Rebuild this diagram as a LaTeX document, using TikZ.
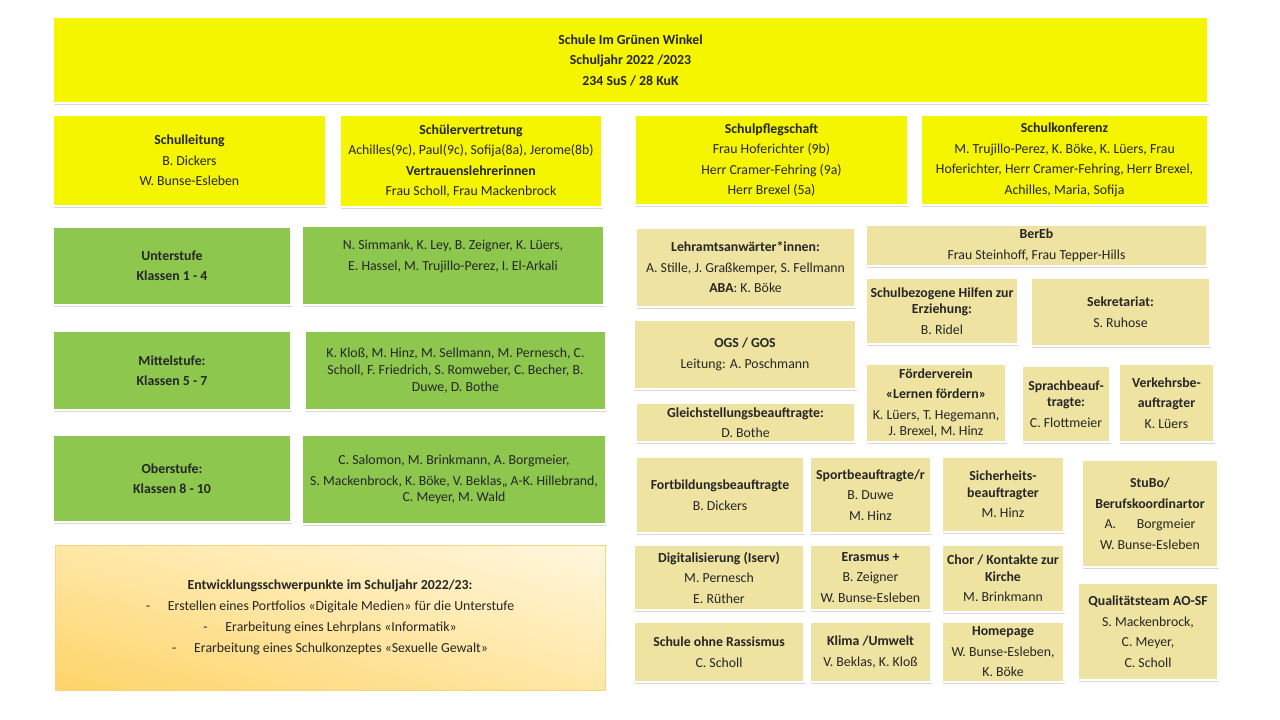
\documentclass[tikz,border=0pt]{standalone}
\usepackage{fontspec}
\setmainfont{Carlito}
\usepackage{xcolor}
\usepackage{tikz}
\usetikzlibrary{shadows,shadings}
\definecolor{SgwYellow}{HTML}{F5F500}
\definecolor{SgwGreen}{HTML}{8DC74E}
\definecolor{SgwKhaki}{HTML}{EEE3A0}
\definecolor{SgwGoldDark}{HTML}{FDD468}
\definecolor{SgwGoldMid}{HTML}{FFE7A6}
\definecolor{SgwGoldLight}{HTML}{FFF7DE}
\definecolor{SgwEdge}{HTML}{F7D37C}
\definecolor{SgwText}{HTML}{262626}
\tikzset{
  card/.style={draw=white,line width=1.8pt,align=center,inner sep=2pt,text=SgwText,
    font=\fontsize{13.8}{20.5}\selectfont,
    drop shadow={opacity=.3,shadow xshift=.8pt,shadow yshift=-2.2pt}},
  headcard/.style={card,fill=SgwYellow},
  stufe/.style={card,fill=SgwGreen},
  duty/.style={card,fill=SgwKhaki},
  tight/.style={font=\fontsize{13.8}{16.5}\selectfont},
  focus/.style={draw=SgwEdge,line width=.8pt,align=center,text=SgwText,
    font=\fontsize{13.8}{21}\selectfont,
    upper left=SgwGoldMid,upper right=SgwGoldLight,lower left=SgwGoldDark,lower right=SgwGoldMid}
}
\begin{document}
\begin{tikzpicture}[x=1pt,y=-1pt]
  \useasboundingbox[fill=white] (0,0) rectangle (1280,720);
  % head and school bodies
  \node[headcard,minimum width=1155pt,minimum height=86pt] (school) at (630.5,60)
    {\textbf{Schule Im Grünen Winkel}\\\textbf{Schuljahr 2022 /2023}\\\textbf{234 SuS / 28 KuK}};
  \node[headcard,minimum width=273pt,minimum height=91pt] (lead) at (189.5,160.5)
    {\textbf{Schulleitung}\\B. Dickers\\W. Bunse-Esleben};
  \node[headcard,minimum width=262pt,minimum height=92pt] (pupils) at (471,161)
    {\textbf{Schülervertretung}\\Achilles(9c),  Paul(9c),  Sofija(8a),  Jerome(8b)\\\textbf{Vertrauenslehrerinnen}\\Frau Scholl,  Frau Mackenbrock};
  \node[headcard,minimum width=273pt,minimum height=90pt] (parents) at (771.5,160)
    {\textbf{Schulpflegschaft}\\Frau Hoferichter (9b)\\Herr Cramer-Fehring (9a)\\Herr Brexel (5a)};
  \node[headcard,minimum width=287pt,minimum height=90pt] (conf) at (1064.5,160)
    {\textbf{Schulkonferenz}\\M. Trujillo-Perez,  K. Böke, K. Lüers, Frau\\Hoferichter,  Herr Cramer-Fehring,  Herr Brexel,\\Achilles,  Maria, Sofija};
  % stages
  \node[stufe,minimum width=238pt,minimum height=78pt] (lower) at (172,266)
    {\textbf{Unterstufe}\\\textbf{Klassen 1 - 4}};
  \node[stufe,minimum width=302pt,minimum height=79pt] (lowerstaff) at (453,265.5)
    {N. Simmank, K. Ley, B. Zeigner, K. Lüers,\\E. Hassel, M. Trujillo-Perez, I. El-Arkali\\~};
  \node[stufe,minimum width=238pt,minimum height=79pt] (middle) at (172,370.5)
    {\textbf{Mittelstufe:}\\\textbf{Klassen 5 - 7}};
  \node[stufe,minimum width=301pt,minimum height=79pt,font=\fontsize{13.8}{17}\selectfont] (middlestaff) at (455.5,370.5)
    {K. Kloß, M. Hinz, M. Sellmann,  M. Pernesch,  C.\\Scholl,  F. Friedrich,  S. Romweber,  C. Becher,  B.\\Duwe, D. Bothe};
  \node[stufe,minimum width=238pt,minimum height=87pt] (upper) at (172,478.5)
    {\textbf{Oberstufe:}\\\textbf{Klassen 8 - 10}};
  \node[stufe,minimum width=304pt,minimum height=89pt,font=\fontsize{13.8}{16}\selectfont] (upperstaff) at (454,479.5)
    {C. Salomon,  M. Brinkmann,  A. Borgmeier,\\[5pt]S. Mackenbrock,  K. Böke,  V. Beklas,,  A-K. Hillebrand,\\C. Meyer,  M. Wald};
  \node[focus,minimum width=550pt,minimum height=145pt] (goals) at (330,617.5)
    {\textbf{Entwicklungsschwerpunkte im Schuljahr 2022/23:}\\
     -\hspace{1.3em}Erstellen eines Portfolios  «Digitale Medien» für die Unterstufe\\
     -\hspace{1.3em}Erarbeitung eines Lehrplans «Informatik»\\
     -\hspace{1.3em}Erarbeitung eines Schulkonzeptes  «Sexuelle Gewalt»};
  % duties
  \node[duty,minimum width=219pt,minimum height=79pt] (trainees) at (745.5,267.5)
    {\textbf{Lehramtsanwärter*innen:}\\A. Stille, J. Graßkemper, S. Fellmann\\\textbf{ABA}: K. Böke};
  \node[duty,minimum width=222pt,minimum height=69pt] (ogs) at (745,354.5)
    {\textbf{OGS / GOS}\\Leitung: A. Poschmann};
  \node[duty,minimum width=219pt,minimum height=39pt,inner sep=0pt] (equal) at (745.5,422.5)
    {\textbf{Gleichstellungsbeauftragte:}\\D. Bothe};
  \node[duty,minimum width=341pt,minimum height=41pt,inner sep=0pt] (bereb) at (1036.5,245.5)
    {\textbf{BerEb}\\Frau Steinhoff,  Frau Tepper-Hills};
  \node[duty,minimum width=152pt,minimum height=66pt] (help) at (942,311)
    {\textbf{Schulbezogene Hilfen zur}\\[-4pt]\textbf{Erziehung:}\\B. Ridel};
  \node[duty,minimum width=179pt,minimum height=68pt] (office) at (1120.5,312)
    {\textbf{Sekretariat:}\\S. Ruhose};
  \node[duty,minimum width=140pt,minimum height=78pt,tight] (friends) at (936,403)
    {\textbf{Förderverein}\\[4pt]\textbf{«Lernen fördern»}\\[4pt]K. Lüers, T. Hegemann,\\J. Brexel, M. Hinz};
  \node[duty,minimum width=88pt,minimum height=76pt,tight] (language) at (1066,404)
    {\textbf{Sprachbeauf-}\\\textbf{tragte:}\\[4pt]C. Flottmeier};
  \node[duty,minimum width=95pt,minimum height=78pt] (traffic) at (1166.5,403)
    {\textbf{Verkehrsbe-}\\\textbf{auftragter}\\K. Lüers};
  \node[duty,minimum width=168pt,minimum height=76pt] (training) at (720,495)
    {\textbf{Fortbildungsbeauftragte}\\B. Dickers};
  \node[duty,minimum width=121pt,minimum height=76pt] (sport) at (870.5,495)
    {\textbf{Sportbeauftragte/r}\\B. Duwe\\M. Hinz};
  \node[duty,minimum width=122pt,minimum height=75pt,tight] (safety) at (1003,494.5)
    {\textbf{Sicherheits-}\\\textbf{beauftragter}\\[4pt]M. Hinz};
  \node[duty,minimum width=136pt,minimum height=107pt] (stubo) at (1150,513.5)
    {\textbf{StuBo/}\\\textbf{Berufskoordinartor}\\A.\hspace{1.5em}Borgmeier\\W. Bunse-Esleben};
  \node[duty,minimum width=170pt,minimum height=65pt] (digital) at (719,577.5)
    {\textbf{Digitalisierung (Iserv)}\\M. Pernesch\\E. Rüther};
  \node[duty,minimum width=121pt,minimum height=65pt] (erasmus) at (870.5,577.5)
    {\textbf{Erasmus +}\\B. Zeigner\\W. Bunse-Esleben};
  \node[duty,minimum width=122pt,minimum height=67pt,tight] (choir) at (1003,578.5)
    {\textbf{Chor / Kontakte zur}\\\textbf{Kirche}\\[4pt]M. Brinkmann};
  \node[duty,minimum width=140pt,minimum height=97pt] (quality) at (1148,631.5)
    {\textbf{Qualitätsteam AO-SF}\\S. Mackenbrock,\\C. Meyer,\\C. Scholl};
  \node[duty,minimum width=170pt,minimum height=60pt] (racism) at (719,652)
    {\textbf{Schule ohne Rassismus}\\C. Scholl};
  \node[duty,minimum width=121pt,minimum height=60pt] (climate) at (870.5,652)
    {\textbf{Klima /Umwelt}\\V. Beklas, K. Kloß};
  \node[duty,minimum width=122pt,minimum height=60pt] (web) at (1003,652)
    {\textbf{Homepage}\\W. Bunse-Esleben,\\K. Böke};
\end{tikzpicture}
\end{document}
